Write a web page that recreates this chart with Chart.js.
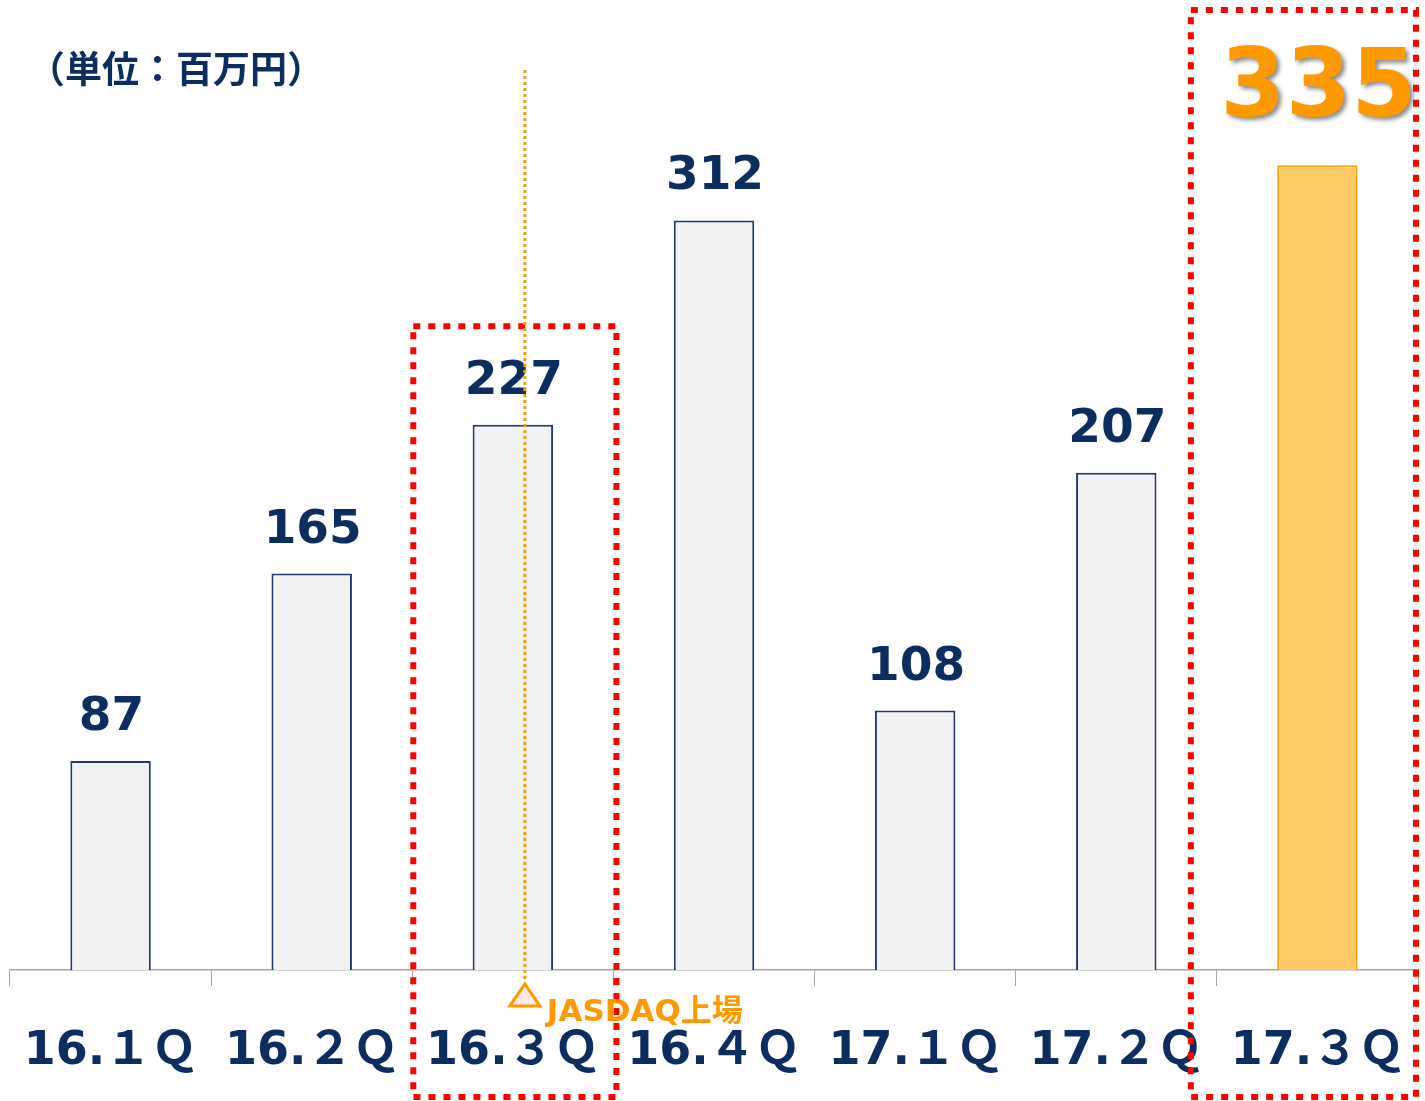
<!DOCTYPE html>
<html>
<head>
<meta charset="utf-8">
<script src="https://cdn.jsdelivr.net/npm/chart.js@4.4.0/dist/chart.umd.min.js"></script>
<style>
  html, body { margin: 0; padding: 0; background: #ffffff; }
  #wrap { width: 1425px; height: 1101px; position: relative; }
</style>
</head>
<body>
<div id="wrap"><canvas id="myChart" width="1425" height="1101"></canvas></div>
<script>
// quarterly figures (unit: million yen)
const quarters = ['16.１Ｑ', '16.２Ｑ', '16.３Ｑ', '16.４Ｑ', '17.１Ｑ', '17.２Ｑ', '17.３Ｑ'];
const amounts = [87, 165, 227, 312, 108, 207, 335];
const unitLabel = '（単位：百万円）';
const listingNote = 'JASDAQ上場';
const listingIndex = 2;
const highlightIndex = 6;

const navy = '#0b2d5f';
const orange = '#ff9900';
const fontStack = '"DejaVu Sans", "Noto Sans CJK JP", sans-serif';

const fills = amounts.map((v, i) => i === highlightIndex ? '#ffca66' : '#f2f2f2');
const borders = amounts.map((v, i) => i === highlightIndex ? '#f7a21c' : '#1f3a68');

// value labels, red dotted frames, listing marker
const decorations = {
  id: 'decorations',
  afterDatasetsDraw(chart) {
    const ctx = chart.ctx;
    const x = chart.scales.x;
    const y = chart.scales.y;
    const bars = chart.getDatasetMeta(0).data;
    const step = x.getPixelForValue(1) - x.getPixelForValue(0);

    ctx.save();
    // value labels
    ctx.textAlign = 'center';
    ctx.textBaseline = 'alphabetic';
    bars.forEach((bar, i) => {
      if (i === highlightIndex) {
        ctx.save();
        ctx.font = 'bold 94px ' + fontStack;
        ctx.fillStyle = orange;
        ctx.shadowColor = 'rgba(0,0,0,0.45)';
        ctx.shadowOffsetX = 3;
        ctx.shadowOffsetY = 3;
        ctx.shadowBlur = 4;
        ctx.fillText(amounts[i], bar.x + 1, bar.y - 49);
        ctx.restore();
      } else {
        ctx.font = 'bold 47px ' + fontStack;
        ctx.fillStyle = navy;
        ctx.fillText(amounts[i], bar.x + 1, bar.y - 31);
      }
    });

    // unit label
    ctx.textAlign = 'left';
    ctx.textBaseline = 'middle';
    ctx.font = 'bold 37px ' + fontStack;
    ctx.fillStyle = navy;
    ctx.fillText(unitLabel, 28, 73);

    // red dotted frames
    ctx.strokeStyle = '#ff0000';
    ctx.lineWidth = 6;
    ctx.setLineDash([7, 8]);
    const c2 = x.getPixelForValue(listingIndex);
    const boxTop = y.getPixelForValue(268);
    ctx.strokeRect(c2 - step / 2 + 1, boxTop, step + 2, 1097 - boxTop);
    const c6 = x.getPixelForValue(highlightIndex);
    ctx.strokeRect(c6 - step / 2 - 26, 10, step + 24, 1087);

    // orange dotted listing line
    const lx = c2 + 12;
    ctx.strokeStyle = orange;
    ctx.lineWidth = 3;
    ctx.setLineDash([3, 3]);
    ctx.beginPath();
    ctx.moveTo(lx, 70);
    ctx.lineTo(lx, 982);
    ctx.stroke();

    // triangle marker
    ctx.setLineDash([]);
    ctx.lineWidth = 3;
    ctx.fillStyle = '#fde6e6';
    ctx.beginPath();
    ctx.moveTo(lx, 984);
    ctx.lineTo(lx + 15, 1006);
    ctx.lineTo(lx - 15, 1006);
    ctx.closePath();
    ctx.fill();
    ctx.stroke();

    ctx.font = 'bold 31px ' + fontStack;
    ctx.fillStyle = orange;
    ctx.textAlign = 'left';
    ctx.textBaseline = 'middle';
    ctx.fillText(listingNote, lx + 22, 1013);
    ctx.restore();
  }
};

const myChart = document.getElementById('myChart').getContext('2d');

new Chart(myChart, {
  type: 'bar',
  data: {
    labels: quarters,
    datasets: [{
      data: amounts,
      backgroundColor: fills,
      borderColor: borders,
      borderWidth: 2,
      barPercentage: 1,
      categoryPercentage: 0.4
    }]
  },
  options: {
    responsive: false,
    animation: false,
    events: [],
    layout: { padding: { top: 9, left: 10, right: 7, bottom: 0 } },
    plugins: {
      legend: { display: false },
      tooltip: { enabled: false }
    },
    scales: {
      x: {
        afterFit: s => {
          s.height = 131;
          s.paddingLeft = 0;
          s.paddingRight = 0;
        },
        grid: {
          drawOnChartArea: false,
          drawTicks: true,
          tickLength: 16,
          color: '#a6a6a6',
          offset: true
        },
        border: { color: '#a6a6a6', width: 1.5 },
        ticks: {
          color: navy,
          padding: 38,
          font: { family: fontStack, size: 46, weight: 'bold' }
        }
      },
      y: {
        display: false,
        min: 0,
        max: 400
      }
    }
  },
  plugins: [decorations]
});
</script>
</body>
</html>
